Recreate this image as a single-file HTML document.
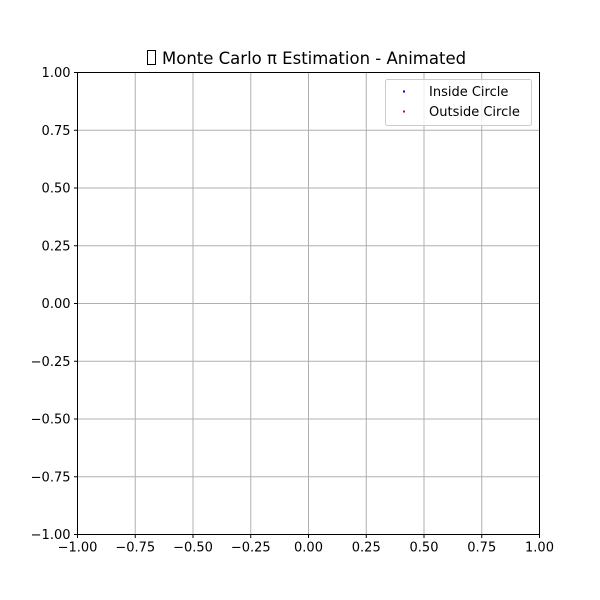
<!DOCTYPE html>
<html><head><meta charset="utf-8"><style>
html,body{margin:0;padding:0;background:#fff;}
svg{display:block;font-family:"DejaVu Sans","Liberation Sans",sans-serif;}
</style></head><body>
<svg id="chart" width="600" height="600" viewBox="0 0 600 600">
  <rect x="0" y="0" width="600" height="600" fill="#fff"/>
  <g id="grid"></g>
  <g id="points"></g>
  <rect x="77.5" y="72.5" width="462" height="462" fill="none" stroke="#000" stroke-width="1"/>
  <g id="xticks"></g>
  <g id="yticks"></g>
  <g>
    <rect x="147.5" y="50.5" width="8" height="14" fill="none" stroke="#000" stroke-width="1"/>
    <text x="162" y="64" font-size="16.5" fill="#000">Monte Carlo π Estimation - Animated</text>
  </g>
  <g>
    <rect x="385.5" y="79.5" width="146" height="46" rx="2" fill="#fff" fill-opacity="0.8" stroke="#ccc"/>
    <g>
      <rect x="403" y="90.5" width="2" height="2" fill="#0000ff"/>
      <text x="429" y="96" font-size="13" fill="#000">Inside Circle</text>
    </g>
    <g>
      <rect x="403" y="110.5" width="2" height="2" fill="#ff0000"/>
      <text x="429" y="116" font-size="13" fill="#000">Outside Circle</text>
    </g>
  </g>
</svg>
<script>
const tickValues = [-1, -0.75, -0.5, -0.25, 0, 0.25, 0.5, 0.75, 1];
const tickLabels = ["\u22121.00","\u22120.75","\u22120.50","\u22120.25","0.00","0.25","0.50","0.75","1.00"];
const insideX = [];
const insideY = [];
const outsideX = [];
const outsideY = [];

const L=77.5,R=539.5,T=72.5,B=534.5;
function sx(v){return L+(v+1)/2*(R-L);}
function sy(v){return B-(v+1)/2*(B-T);}
const NS="http://www.w3.org/2000/svg";
function mk(tag,attrs,parent){const e=document.createElementNS(NS,tag);for(const k in attrs)e.setAttribute(k,attrs[k]);parent.appendChild(e);return e;}
const grid=document.getElementById('grid'),xt=document.getElementById('xticks'),yt=document.getElementById('yticks'),pts=document.getElementById('points');
tickValues.forEach((v,i)=>{
  const x=sx(v),y=sy(v);
  const gv=mk('line',{x1:x,y1:T,x2:x,y2:B,stroke:'#b0b0b0','stroke-width':1},grid);
  
  
  const gh=mk('line',{x1:L,y1:y,x2:R,y2:y,stroke:'#b0b0b0','stroke-width':1},grid);
  
  
  mk('line',{x1:x,y1:B,x2:x,y2:B+3.5,stroke:'#000','stroke-width':1},xt);
  const tx=mk('text',{x:x,y:B+17,'font-size':13,'text-anchor':'middle',fill:'#000'},xt);
  tx.textContent=tickLabels[i];
  
  
  mk('line',{x1:L-3.5,y1:y,x2:L,y2:y,stroke:'#000','stroke-width':1},yt);
  const ty=mk('text',{x:L-7,y:y+4.5,'font-size':13,'text-anchor':'end',fill:'#000'},yt);
  ty.textContent=tickLabels[i];
  
  
});
insideX.forEach((v,i)=>{
  const c=mk('circle',{cx:sx(v),cy:sy(insideY[i]),r:1.2,fill:'#0000ff'},pts);
  
  
});
outsideX.forEach((v,i)=>{
  const c=mk('circle',{cx:sx(v),cy:sy(outsideY[i]),r:1.2,fill:'#ff0000'},pts);
  
  
});
</script>
</body></html>
